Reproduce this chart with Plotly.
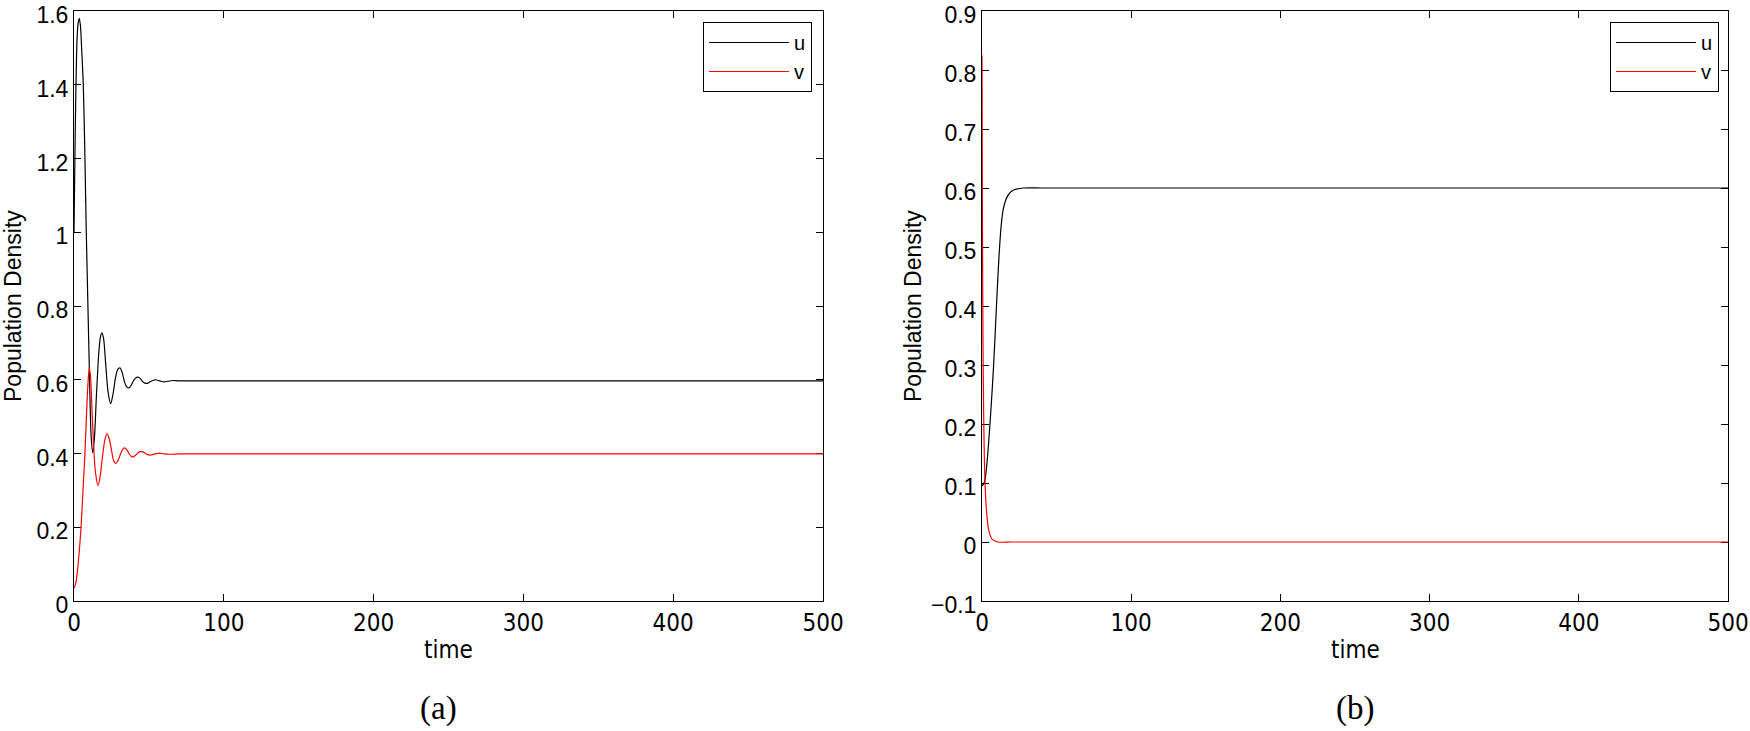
import plotly.graph_objects as go

# panel (a): values
t_a_u = [0, 0.5, 1.0, 1.5, 2.0, 2.7, 3.5, 4.3, 5.2, 6.2, 7.3, 8.2, 9.3, 10.4, 11.4,
         12.5, 13.6, 15.0, 16.5, 17.6, 18.7, 19.8, 21.2, 22.8, 24.5, 26.0, 27.7, 29.2,
         30.7, 32.3, 33.8, 35.3, 36.7, 38.2, 39.8, 41.2, 42.7, 44.3, 45.8, 47.3, 48.7,
         51.5, 54.3, 57.2, 60.1, 63, 66, 70, 80, 100, 150, 200, 250, 300, 350, 400,
         450, 500]
u_a = [1.00, 1.17, 1.32, 1.44, 1.52, 1.565, 1.58, 1.56, 1.49, 1.40, 1.20, 1.00, 0.80,
       0.60, 0.45, 0.402, 0.44, 0.56, 0.67, 0.715, 0.727, 0.71, 0.64, 0.565, 0.535,
       0.56, 0.605, 0.628, 0.632, 0.618, 0.593, 0.58, 0.578, 0.585, 0.598, 0.605,
       0.607, 0.603, 0.595, 0.591, 0.590, 0.596, 0.600, 0.597, 0.594, 0.596, 0.598,
       0.597, 0.597, 0.597, 0.597, 0.597, 0.597, 0.597, 0.597, 0.597, 0.597, 0.597]

t_a_v = [0, 1, 2, 3, 4, 4.7, 5.5, 6.4, 7.3, 8.3, 9.2, 10.2, 11.0, 12.0, 13.0, 14.3,
         16.0, 17.5, 19.0, 20.5, 22.0, 23.5, 25.0, 26.5, 28.0, 29.5, 31.0, 32.5, 33.8,
         35.3, 37.0, 38.3, 39.6, 41.0, 42.5, 44.0, 45.4, 47.0, 49.0, 51.4, 54.0, 57.2,
         60, 64, 70, 80, 100, 150, 200, 250, 300, 350, 400, 450, 500]
v_a = [0.035, 0.045, 0.07, 0.11, 0.16, 0.20, 0.26, 0.33, 0.40, 0.50, 0.58, 0.632,
       0.61, 0.52, 0.43, 0.35, 0.313, 0.34, 0.39, 0.435, 0.453, 0.44, 0.41, 0.38,
       0.373, 0.382, 0.398, 0.411, 0.415, 0.41, 0.398, 0.392, 0.391, 0.395, 0.401,
       0.405, 0.405, 0.402, 0.397, 0.396, 0.399, 0.401, 0.399, 0.398, 0.399, 0.399,
       0.399, 0.399, 0.399, 0.399, 0.399, 0.399, 0.399, 0.399, 0.399]

# panel (b)
t_b_u = [0, 1.5, 3, 4.5, 6, 7.8, 9.7, 11.3, 12.8, 14.3, 16, 17.5, 20, 23, 28, 40,
         60, 100, 200, 300, 400, 500]
u_b = [0.095, 0.10, 0.125, 0.17, 0.225, 0.30, 0.40, 0.48, 0.535, 0.565, 0.58, 0.588,
       0.595, 0.598, 0.60, 0.60, 0.60, 0.60, 0.60, 0.60, 0.60, 0.60]

t_b_v = [0, 0.15, 0.4, 0.7, 1.1, 1.6, 2.2, 3.1, 4.5, 6.7, 10.7, 20, 40, 100, 200,
         300, 400, 500]
v_b = [0.825, 0.66, 0.47, 0.33, 0.22, 0.14, 0.09, 0.05, 0.02, 0.005, 0.0, 0.0, 0.0,
       0.0, 0.0, 0.0, 0.0, 0.0]

x_ticks = [0, 100, 200, 300, 400, 500]
y_ticks_a = [0, 0.2, 0.4, 0.6, 0.8, 1, 1.2, 1.4, 1.6]
y_labels_a = ["0", "0.2", "0.4", "0.6", "0.8", "1", "1.2", "1.4", "1.6"]
y_ticks_b = [-0.1, 0, 0.1, 0.2, 0.3, 0.4, 0.5, 0.6, 0.7, 0.8, 0.9]
y_labels_b = ["\u22120.1", "0", "0.1", "0.2", "0.3", "0.4", "0.5", "0.6", "0.7", "0.8", "0.9"]

W, H = 1750, 731
px = lambda x: x / W
py = lambda y: (H - y) / H

fig = go.Figure()
line_kw = dict(mode="lines", line_shape="spline")
fig.add_trace(go.Scatter(x=t_a_u, y=u_a, name="u", line=dict(color="black", width=1.2, smoothing=0.8),
                         xaxis="x", yaxis="y", legend="legend", **line_kw))
fig.add_trace(go.Scatter(x=t_a_v, y=v_a, name="v", line=dict(color="red", width=1.2, smoothing=0.8),
                         xaxis="x", yaxis="y", legend="legend", **line_kw))
fig.add_trace(go.Scatter(x=t_b_u, y=u_b, name="u", line=dict(color="black", width=1.2, smoothing=0.8),
                         xaxis="x2", yaxis="y2", legend="legend2", **line_kw))
fig.add_trace(go.Scatter(x=t_b_v, y=v_b, name="v", line=dict(color="red", width=1.2, smoothing=0.8),
                         xaxis="x2", yaxis="y2", legend="legend2", **line_kw))

xfont = dict(family="Liberation Sans Narrow, Arial Narrow, DejaVu Sans Condensed, Liberation Sans",
             size=24, color="black")
yfont = dict(family="Liberation Sans, Arial", size=23, color="black")
ax = dict(showline=True, linecolor="black", linewidth=1, mirror="ticks", ticks="inside",
          ticklen=7, tickcolor="black", showgrid=False, zeroline=False, automargin=False,
          layer="below traces", ticklabeloverflow="allow")

fig.update_layout(
    width=W, height=H, margin=dict(l=0, r=0, t=0, b=0),
    plot_bgcolor="white", paper_bgcolor="white",
    xaxis=dict(domain=[px(74), px(823)], range=[0, 500], tickvals=x_ticks, tickfont=xfont,
               anchor="y", **ax),
    yaxis=dict(domain=[py(601), py(11)], range=[0, 1.6], tickvals=y_ticks_a,
               ticktext=y_labels_a, tickfont=yfont, anchor="x", ticklabelshift=4, **ax),
    xaxis2=dict(domain=[px(982), px(1728)], range=[0, 500], tickvals=x_ticks, tickfont=xfont,
                anchor="y2", **ax),
    yaxis2=dict(domain=[py(601), py(11)], range=[-0.1, 0.9], tickvals=y_ticks_b,
                ticktext=y_labels_b, tickfont=yfont, anchor="x2", ticklabelshift=4, **ax),
    legend=dict(x=px(812), y=py(22), xanchor="right", yanchor="top", bgcolor="white",
                bordercolor="black", borderwidth=1, itemwidth=80,
                font=dict(family="Liberation Sans, Arial", size=20, color="black")),
    legend2=dict(x=px(1719), y=py(22), xanchor="right", yanchor="top", bgcolor="white",
                 bordercolor="black", borderwidth=1, itemwidth=80,
                 font=dict(family="Liberation Sans, Arial", size=20, color="black")),
)

serif = dict(family="Liberation Serif, Times New Roman", size=33, color="black")
labels = [
    dict(x=px(13), y=py(306), text="Population Density", textangle=-90, font=yfont),
    dict(x=px(913), y=py(306), text="Population Density", textangle=-90, font=yfont),
    dict(x=px(448), y=py(650), text="time", font=xfont),
    dict(x=px(1355), y=py(650), text="time", font=xfont),
    dict(x=px(438), y=py(708), text="(a)", font=serif),
    dict(x=px(1355), y=py(708), text="(b)", font=serif),
]
for a in labels:
    fig.add_annotation(xref="paper", yref="paper", showarrow=False, xanchor="center",
                       yanchor="middle", **a)

# the page's default body margin would push the figure 8px off the window
fig.write_html("out.html", config={"displayModeBar": False},
               post_script="document.body.style.margin='0';"
                           "document.body.style.overflow='hidden';")
